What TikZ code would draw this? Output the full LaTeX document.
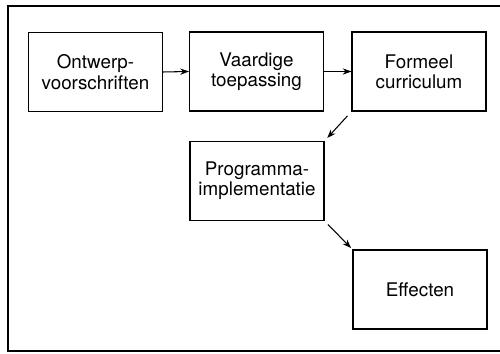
\documentclass[tikz,border=0pt]{standalone}
\usepackage{fontspec}
\setmainfont{TeX Gyre Heros}
\usetikzlibrary{arrows.meta}

\begin{document}
\begin{tikzpicture}[x=0.02cm, y=-0.02cm,
    blok/.style={draw, line width=0.6pt, minimum width=2.68cm, minimum height=1.58cm,
        align=center, inner sep=0pt, font=\fontsize{10.7}{11.6}\selectfont},
    pijl/.style={-{Stealth[length=5pt, width=3.6pt]}, line width=0.6pt}]
    \useasboundingbox (0,0) rectangle (500,354);

    % kader (rechterrand valt buiten beeld)
    \draw[line width=1.1pt] (504,6) -- (8,6) -- (8,351) -- (504,351);

    % blokken
    \node[blok] (ontwerp) at (95.5,72) {Ontwerp-\\voorschriften};
    \node[blok] (vaardig) at (256.5,71.5) {Vaardige\\toepassing};
    \node[blok] (formeel) at (419,71.5) {Formeel\\curriculum};
    \node[blok] (programma) at (257,181) {Programma-\\implementatie};
    \node[blok] (effecten) at (420,289.5) {Effecten};

    % pijlen
    \draw[pijl] (ontwerp.east) -- (vaardig.west);
    \draw[pijl] (vaardig.east) -- (formeel.west);
    \draw[pijl, shorten <=3.4pt, shorten >=2.3pt] (formeel.south west) -- (programma.north east);
    \draw[pijl, shorten <=2.8pt, shorten >=1.1pt] (programma.south east) -- (effecten.north west);
\end{tikzpicture}
\end{document}
